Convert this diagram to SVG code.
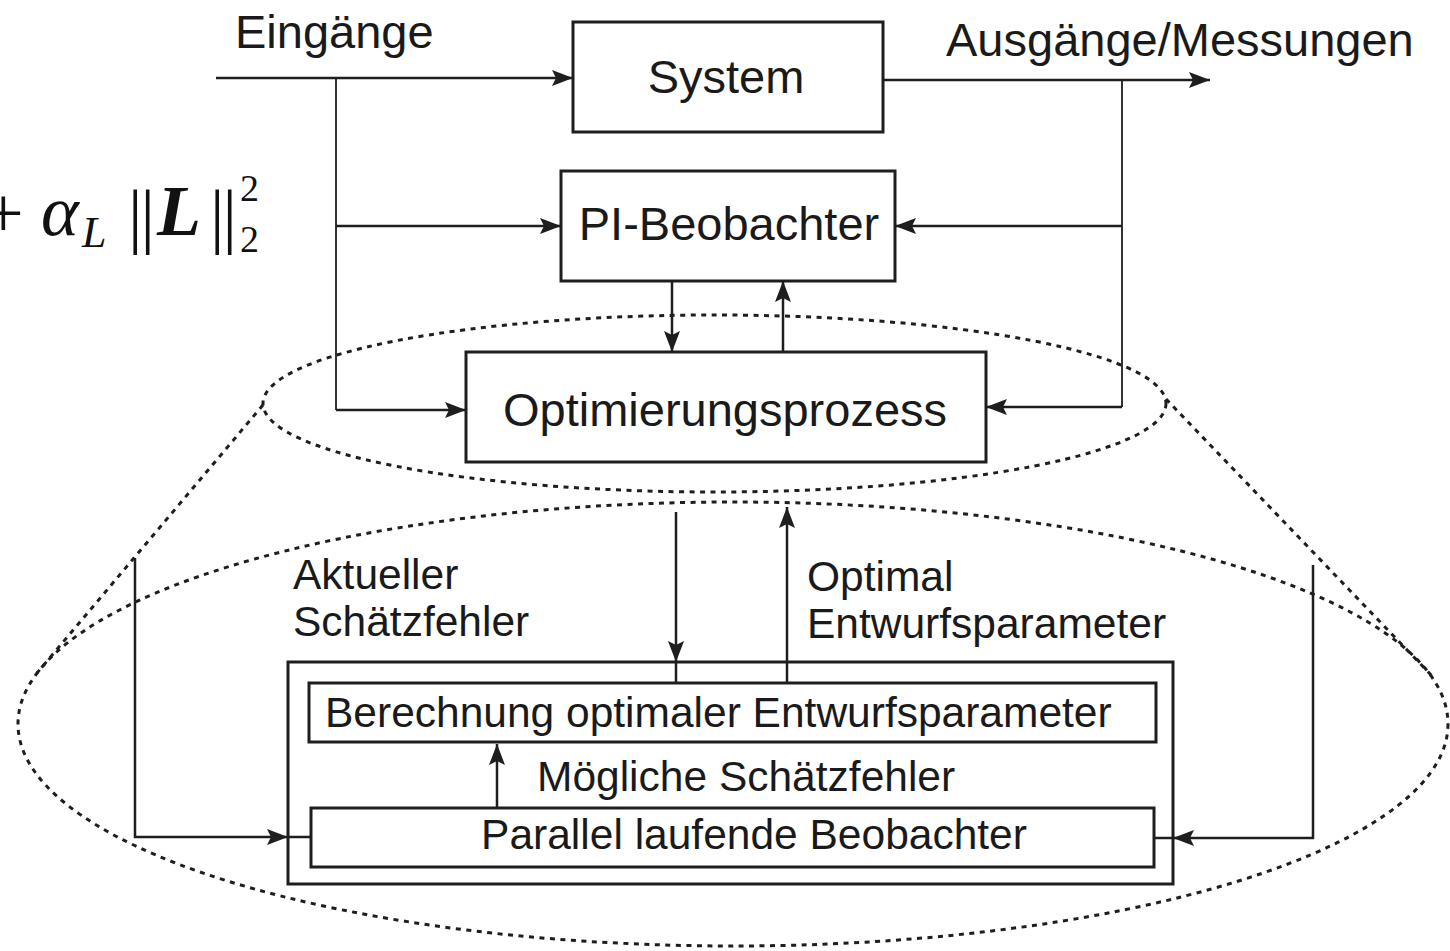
<svg xmlns="http://www.w3.org/2000/svg" width="1450" height="951" viewBox="0 0 1450 951">
<style>
.box{fill:none;stroke:#1e1e1e;stroke-width:3}
.ln{fill:none;stroke:#1e1e1e;stroke-width:2.5}
.thin{fill:none;stroke:#1e1e1e;stroke-width:1.8}
.dot{fill:none;stroke:#1e1e1e;stroke-width:3;stroke-dasharray:5 5.5}
.t{font-family:"Liberation Sans",Arial,sans-serif;fill:#1a1a1a}
.big{font-size:47px}
.sm{font-size:42.5px}
.m{font-family:"Liberation Serif","DejaVu Serif",serif;fill:#111}
</style>
<defs>
<marker id="ah" markerUnits="userSpaceOnUse" markerWidth="24" markerHeight="18" refX="21" refY="8" orient="auto">
<path d="M0,0 L21,8 L0,16 L4,8 z" fill="#1e1e1e"/>
</marker>
</defs>
<rect width="1450" height="951" fill="#fff"/>

<g id="formula">
<text class="m" x="-17" y="237" font-size="72">+</text>
<text class="m" x="41" y="235" font-size="72" font-style="italic">α</text>
<text class="m" x="82" y="247" font-size="44" font-style="italic">L</text>
<text class="m" x="128" y="240" font-size="72" letter-spacing="-2">||</text>
<text class="m" x="157" y="235" font-size="72" font-style="italic" font-weight="bold">L</text>
<text class="m" x="210" y="240" font-size="72" letter-spacing="-2">||</text>
<text class="m" x="240" y="201" font-size="38">2</text>
<text class="m" x="240" y="252" font-size="38">2</text>
</g>

<g id="ellipses">
<ellipse class="dot" cx="714.5" cy="403.5" rx="451.5" ry="88.5"/>
<ellipse class="dot" cx="733" cy="724" rx="715" ry="222"/>
<line class="dot" x1="263" y1="405" x2="37" y2="673"/>
<line class="dot" x1="1166" y1="399" x2="1433" y2="677"/>
</g>

<g id="labels">
<text class="t big" x="235" y="48">Eingänge</text>
<text class="t big" x="946" y="56">Ausgänge/Messungen</text>
<text class="t sm" x="293" y="589">Aktueller</text>
<text class="t sm" x="293" y="636">Schätzfehler</text>
<text class="t sm" x="807" y="591">Optimal</text>
<text class="t sm" x="807" y="638">Entwurfsparameter</text>
<text class="t sm" x="537" y="791">Mögliche Schätzfehler</text>
</g>

<g id="system">
<rect class="box" x="573" y="22" width="310" height="110"/>
<text class="t big" x="726" y="93" text-anchor="middle">System</text>
</g>

<g id="pi-beobachter">
<rect class="box" x="561" y="171" width="334" height="110"/>
<text class="t big" x="729" y="240" text-anchor="middle">PI-Beobachter</text>
</g>

<g id="optimierungsprozess">
<rect class="box" x="466" y="352" width="520" height="110"/>
<text class="t big" x="725" y="426" text-anchor="middle">Optimierungsprozess</text>
</g>

<g id="outer">
<rect class="box" x="288" y="662" width="885" height="222"/>
</g>

<g id="berechnung">
<rect class="box" x="309" y="683" width="847" height="59"/>
<text class="t sm" x="325" y="727">Berechnung optimaler Entwurfsparameter</text>
</g>

<g id="parallel">
<rect class="box" x="311" y="808" width="843" height="59"/>
<text class="t sm" x="754" y="849" text-anchor="middle">Parallel laufende Beobachter</text>
</g>

<g id="connectors">
<line class="ln" x1="216" y1="78" x2="573" y2="78" marker-end="url(#ah)"/>
<line class="ln" x1="883" y1="80" x2="1210" y2="80" marker-end="url(#ah)"/>
<polyline class="thin" points="336,78 336,410"/>
<line class="ln" x1="336" y1="410" x2="466" y2="410" marker-end="url(#ah)"/>
<line class="ln" x1="336" y1="226" x2="561" y2="226" marker-end="url(#ah)"/>
<polyline class="thin" points="1122,80 1122,407"/>
<line class="ln" x1="1122" y1="226" x2="895" y2="226" marker-end="url(#ah)"/>
<line class="ln" x1="1122" y1="407" x2="986" y2="407" marker-end="url(#ah)"/>
<line class="ln" x1="672" y1="281" x2="672" y2="352" marker-end="url(#ah)"/>
<line class="ln" x1="783" y1="352" x2="783" y2="281" marker-end="url(#ah)"/>
<line class="ln" x1="676" y1="512" x2="676" y2="662" marker-end="url(#ah)"/>
<line class="ln" x1="676" y1="662" x2="676" y2="683"/>
<line class="ln" x1="787" y1="683" x2="787" y2="507" marker-end="url(#ah)"/>
<line class="ln" x1="497" y1="808" x2="497" y2="744" marker-end="url(#ah)"/>
<polyline class="ln" points="135,558 135,837 288,837" marker-end="url(#ah)"/>
<line class="ln" x1="288" y1="837" x2="311" y2="837"/>
<polyline class="ln" points="1313,565 1313,838 1173,838" marker-end="url(#ah)"/>
<line class="ln" x1="1154" y1="838" x2="1173" y2="838"/>
</g>
</svg>
